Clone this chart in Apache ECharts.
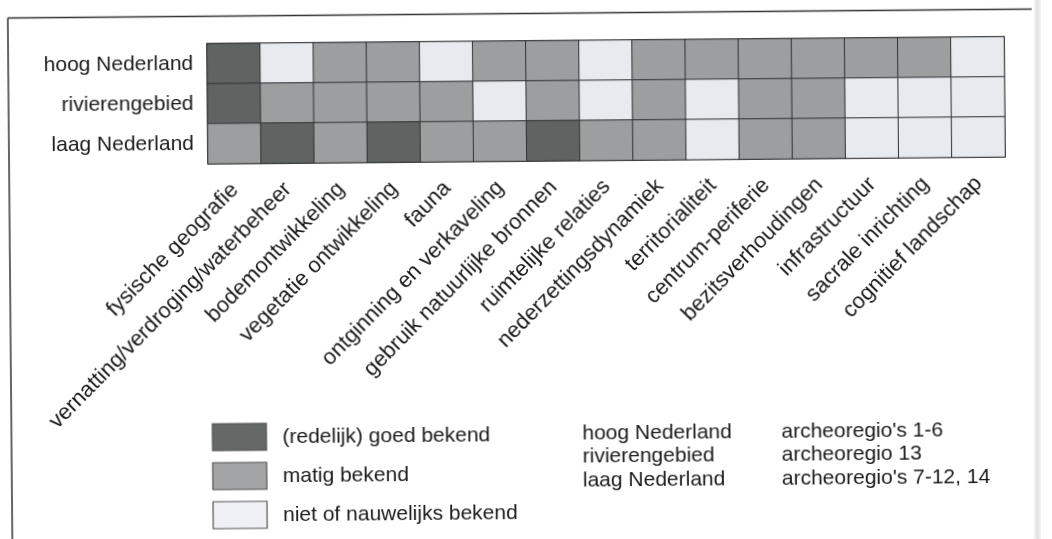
<!DOCTYPE html>
<html>
<head>
<meta charset="utf-8">
<script src="https://cdn.jsdelivr.net/npm/echarts@6/dist/echarts.min.js"></script>
<style>
html,body{margin:0;padding:0;background:#fff;overflow:hidden;}
#wrap{position:relative;width:1052px;height:539px;}
#chart{position:absolute;left:0;top:0;width:1052px;height:539px;transform:rotate(-0.5deg);transform-origin:526px 269.5px;}
#edge{position:absolute;left:1034px;top:0;width:7px;height:539px;background:linear-gradient(to right,#f4f4f4,#e2e2e2,#f4f4f4);}
</style>
</head>
<body>
<div id="wrap"><div id="edge"></div><div id="chart"></div></div>
<script>
const topics = ['fysische geografie','vernatting/verdroging/waterbeheer','bodemontwikkeling','vegetatie ontwikkeling','fauna','ontginning en verkaveling','gebruik natuurlijke bronnen','ruimtelijke relaties','nederzettingsdynamiek','territorialiteit','centrum-periferie','bezitsverhoudingen','infrastructuur','sacrale inrichting','cognitief landschap'];
const regions = ['hoog Nederland','rivierengebied','laag Nederland'];
// 2 = (redelijk) goed bekend, 1 = matig bekend, 0 = niet of nauwelijks bekend
const hoogNederland  = [2,0,1,1,0,1,1,0,1,1,1,1,1,1,0];
const rivierengebied = [2,1,1,1,1,0,1,0,1,0,1,1,0,0,0];
const laagNederland  = [1,2,1,2,1,1,2,1,1,0,1,1,0,0,0];
const levelLabels = ['(redelijk) goed bekend','matig bekend','niet of nauwelijks bekend'];
const levelValues = [2,1,0];
const regionNotes = ["archeoregio's 1-6","archeoregio 13","archeoregio's 7-12, 14"];

const cellColors = {0:'#e7eaef',1:'#9c9ea0',2:'#5f6462'};
const swatchColors = {0:'#eef0f5',1:'#a2a4a5',2:'#646867'};
const FONT = '"Liberation Sans", Arial, Helvetica, sans-serif';

const rows = [hoogNederland, rivierengebied, laagNederland];
const data = [];
rows.forEach((r, yi) => r.forEach((v, xi) => data.push([xi, yi, v])));

const graphics = [
  {type:'line', shape:{x1:10,y1:13.5,x2:1034,y2:13.5}, style:{stroke:'#333',lineWidth:1.5}},
  {type:'line', shape:{x1:10,y1:13.5,x2:10,y2:560}, style:{stroke:'#333',lineWidth:1.5}},
  {type:'line', shape:{x1:10,y1:541,x2:1040,y2:541}, style:{stroke:'#333',lineWidth:2}}
];
levelLabels.forEach((t, i) => {
  const y = 421 + i * 39;
  graphics.push({type:'rect', shape:{x:211,y:y,width:54,height:27}, style:{fill:swatchColors[levelValues[i]], stroke:'#555', lineWidth:1.2}});
  graphics.push({type:'text', x:281, y:y+14, style:{text:t, font:'21px ' + FONT, fill:'#1a1a1a', verticalAlign:'middle'}});
});
regions.forEach((t, i) => {
  const y = 434 + i * 23.5;
  graphics.push({type:'text', x:581, y:y, style:{text:t, font:'21px ' + FONT, fill:'#1a1a1a', verticalAlign:'middle'}});
  graphics.push({type:'text', x:780, y:y, style:{text:regionNotes[i], font:'21px ' + FONT, fill:'#1a1a1a', verticalAlign:'middle'}});
});

const chart = echarts.init(document.getElementById('chart'), null, {renderer:'canvas'});
chart.setOption({
  animation:false,
  backgroundColor:'transparent',
  grid:{left:209, top:41, width:797, height:120, show:true, borderColor:'#3a3a3a', borderWidth:1.5, backgroundColor:'transparent'},
  xAxis:{
    type:'category', data:topics, position:'bottom',
    axisLine:{show:false}, axisTick:{show:false}, splitLine:{show:false},
    axisLabel:{rotate:45, interval:0, margin:23, fontSize:22, fontFamily:FONT, color:'#1a1a1a'}
  },
  yAxis:{
    type:'category', data:regions, inverse:true,
    axisLine:{show:false}, axisTick:{show:false}, splitLine:{show:false},
    axisLabel:{margin:14, fontSize:21, fontFamily:FONT, color:'#1a1a1a'}
  },
  visualMap:{
    type:'piecewise', show:false, dimension:2,
    pieces:[{value:0,color:cellColors[0]},{value:1,color:cellColors[1]},{value:2,color:cellColors[2]}]
  },
  series:[{
    type:'heatmap', data:data,
    itemStyle:{borderColor:'#333', borderWidth:1},
    emphasis:{disabled:true}
  }],
  graphic:graphics
});
</script>
</body>
</html>
